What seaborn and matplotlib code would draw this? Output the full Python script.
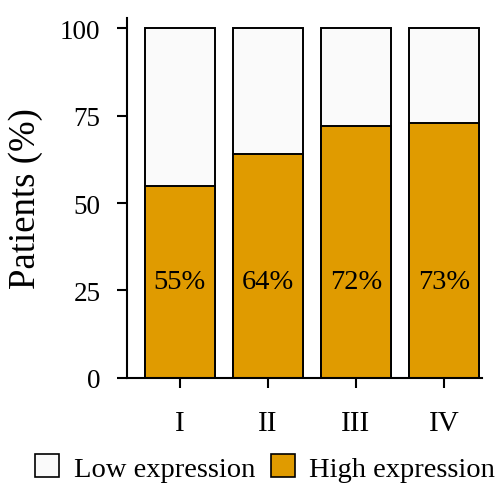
import matplotlib
matplotlib.use("Agg")
import matplotlib.pyplot as plt
from matplotlib.patches import Patch
import seaborn as sns
import pandas as pd

stages = ["I", "II", "III", "IV"]
high_pct = [55, 64, 72, 73]
low_pct = [45, 36, 28, 27]
label_y = 27.5

high_color = "#E09B00"
low_color = "#FAFAFA"

sns.set_theme(style="ticks")
plt.rcParams["font.family"] = ["Liberation Serif", "DejaVu Serif"]
plt.rcParams["text.color"] = "black"
plt.rcParams["axes.labelcolor"] = "black"

df = pd.DataFrame({"stage": stages, "high": high_pct, "low": low_pct})
df["total"] = df["high"] + df["low"]

fig = plt.figure(figsize=(4.99, 4.85), dpi=100)
ax = fig.add_axes([0.2545, 0.2186, 0.7115, 0.7424])

sns.barplot(data=df, x="stage", y="total", color=low_color, saturation=1,
            width=0.8, edgecolor="black", linewidth=1.4, ax=ax)
sns.barplot(data=df, x="stage", y="high", color=high_color, saturation=1,
            width=0.8, edgecolor="black", linewidth=1.4, ax=ax)

for i, v in enumerate(df["high"]):
    ax.text(i, label_y, f"{v}%", ha="center", va="center", fontsize=20.5,
            color="black")

ax.set_xlim(-0.6, 3.43)
ax.set_ylim(0, 102.9)
ax.set_yticks([0, 25, 50, 75, 100])
ax.set_xlabel("")
ax.set_ylabel("Patients (%)", fontsize=26.5, labelpad=12, color="black")
ax.tick_params(axis="y", labelsize=19.5, length=7, width=1.5, pad=12,
               colors="black")
ax.tick_params(axis="x", labelsize=21, length=7, width=1.5, pad=16,
               colors="black")
for side in ["left", "bottom"]:
    ax.spines[side].set_linewidth(1.5)
    ax.spines[side].set_color("black")
sns.despine(ax=ax)

handles = [Patch(facecolor=low_color, edgecolor="black", linewidth=1.2),
           Patch(facecolor=high_color, edgecolor="black", linewidth=1.2)]
leg = fig.legend(handles, ["Low expression", "High expression"], loc="center",
                 bbox_to_anchor=(0.531, 0.033), ncol=2, frameon=False,
                 fontsize=20.5, handlelength=0.85, handleheight=0.85,
                 handletextpad=0.5, columnspacing=0.55, borderaxespad=0,
                 borderpad=0)
for t in leg.get_texts():
    t.set_color("black")

fig.savefig("out.png", dpi=100)
